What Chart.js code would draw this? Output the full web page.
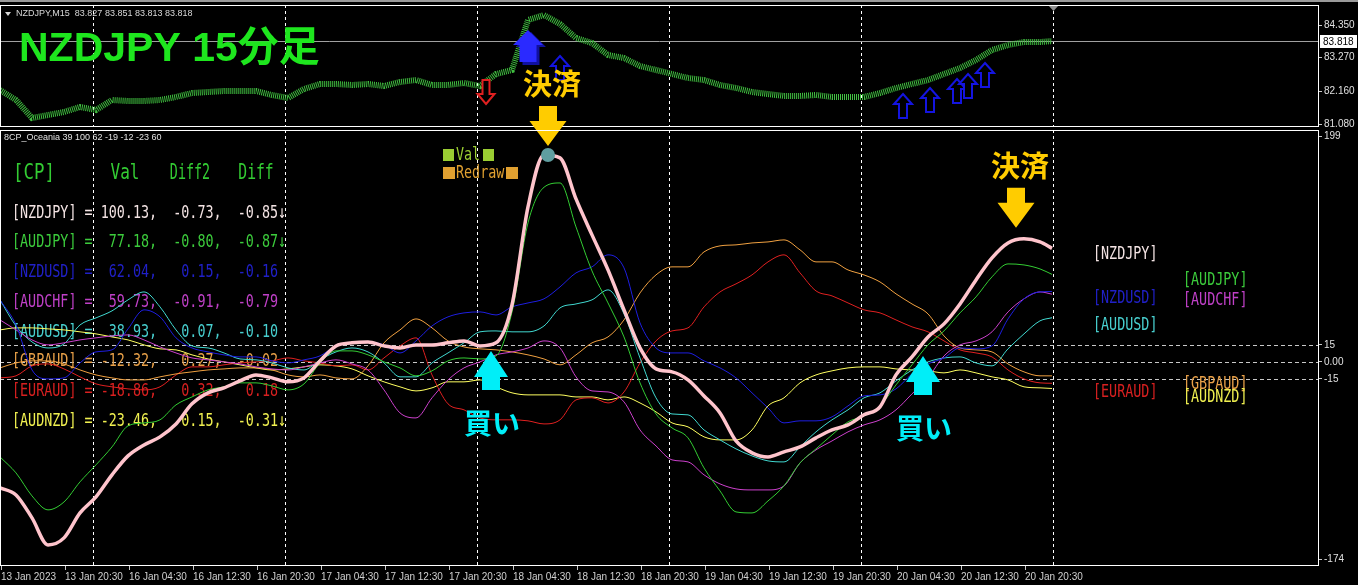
<!DOCTYPE html>
<html>
<head>
<meta charset="utf-8">
<script src="https://cdn.jsdelivr.net/npm/chart.js@4.4.0/dist/chart.umd.min.js"></script>
<style>
body { margin: 0; background: #000; width: 1358px; height: 585px; overflow: hidden; position: relative; }
#priceChart { position: absolute; left: 0; top: 0; z-index: 1; }
#cpChart { position: absolute; left: 0; top: 0; z-index: 2; }
</style>
</head>
<body>
<canvas id="priceChart" width="1358" height="129"></canvas>
<canvas id="cpChart" width="1358" height="585"></canvas>
<script>
// bar index of every sample (M15 bars, read every 8 bars)
var bars = [0, 8, 16, 24, 32, 40, 48, 56, 64, 72, 80, 88, 96, 104, 112, 120, 128, 136, 144, 152,
    160, 168, 176, 184, 192, 200, 208, 216, 224, 232, 240, 248, 256, 264, 272, 280, 288, 296, 304, 312,
    320, 328, 336, 344, 352, 360, 368, 376, 384, 392, 400, 408, 416, 424, 432, 440, 448, 456, 464, 472,
    480, 488, 496, 504, 512, 520, 526];

// NZDJPY close
var priceClose = [82.205, 81.875, 81.281, 81.380, 81.479, 81.644, 81.545, 81.875, 81.842, 81.842,
    81.875, 81.974, 82.106, 82.139, 82.172, 82.172, 82.172, 82.040, 81.941, 82.238,
    82.403, 82.403, 82.370, 82.403, 82.337, 82.469, 82.535, 82.370, 82.370, 82.436,
    82.337, 82.733, 82.865, 84.515, 84.680, 84.383, 83.921, 83.756, 83.360, 83.261,
    82.997, 82.865, 82.733, 82.601, 82.535, 82.370, 82.271, 82.139, 82.073, 82.007,
    82.007, 82.040, 81.974, 81.974, 81.974, 82.106, 82.271, 82.403, 82.535, 82.733,
    82.931, 83.195, 83.525, 83.690, 83.789, 83.789, 83.818];

// currency strength lines
var nzdjpy = [-111.1, -117.3, -137.6, -161.4, -155.2, -133.2, -119.0, -99.6, -82.9, -73.2,
    -66.1, -54.7, -37.0, -27.3, -22.9, -16.8, -11.5, -14.1, -17.6, -14.1,
    0.9, 14.1, 16.8, 17.6, 14.1, 12.3, 15.0, 15.0, 16.8, 18.5,
    14.1, 16.8, 50.3, 136.7, 182.5, 179.9, 143.7, 112.0, 81.1, 45.9,
    12.3, -6.2, -8.8, -15.9, -30.0, -45.0, -69.7, -80.2, -83.8, -79.4,
    -75.0, -67.0, -60.0, -55.6, -46.7, -39.7, -11.5, 4.4, 22.0, 33.5,
    51.1, 72.3, 91.7, 104.9, 108.5, 105.8, 100.13];
var audjpy = [-83.8, -97.9, -118.2, -130.5, -123.5, -105.8, -90.8, -75.0, -56.4, -53.8,
    -51.1, -37.9, -30.9, -24.7, -22.0, -18.5, -18.5, -21.2, -24.7, -19.4,
    -0.9, 9.7, 9.7, 6.2, 0.0, -5.3, -12.3, -7.9, 0.9, 3.5,
    2.6, 5.3, 44.0, 122.6, 154.0, 157.8, 119.0, 80.2, 52.0, 22.0,
    -18.5, -45.9, -58.2, -67.0, -93.5, -113.8, -132.3, -133.2, -122.6, -109.3,
    -89.1, -76.7, -64.4, -52.9, -47.6, -38.8, -20.3, -2.6, 15.0, 27.3,
    43.2, 57.3, 75.0, 86.4, 85.5, 82.0, 77.18];
var nzdusd = [54.7, 32.6, -7.1, -15.0, -14.1, -0.9, 8.8, 10.6, 29.1, 45.9,
    39.7, 21.2, 12.3, 8.8, 6.2, 4.4, 4.4, 0.9, -0.9, 1.8,
    5.3, 14.1, 16.8, 17.6, 15.0, 7.9, 18.5, 31.7, 39.7, 43.2,
    44.1, 41.4, 48.5, 52.0, 55.6, 66.1, 78.5, 83.8, 94.4, 82.9,
    34.4, 12.3, 7.9, 7.9, 0.9, -5.3, -14.1, -27.3, -40.6, -53.8,
    -52.0, -52.0, -48.5, -38.8, -30.0, -29.1, -23.8, -10.6, -1.8, 3.5,
    12.3, 11.5, 14.1, 37.9, 55.6, 61.7, 62.04];
var audchf = [37.0, 28.2, 19.4, 15.0, 16.8, 19.4, 21.2, 22.9, 23.8, 19.4,
    13.2, 7.9, 3.5, 1.8, 0.0, -1.8, -4.4, -6.2, -7.1, -4.4,
    -0.9, 1.8, -1.8, -7.1, -24.7, -45.0, -49.4, -31.7, -15.9, -5.3,
    0.0, 6.2, 8.8, 12.3, 18.5, 12.3, -13.2, -25.6, -26.5, -35.3,
    -60.0, -74.1, -86.4, -88.2, -99.6, -107.6, -112.0, -112.9, -112.9, -109.3,
    -89.1, -77.6, -69.7, -61.7, -55.6, -51.1, -42.3, -28.2, -14.1, 5.3,
    15.0, 18.5, 26.5, 44.1, 55.6, 61.7, 59.73];
var audusd = [54.7, 31.7, 17.6, 12.3, 15.9, 32.6, 38.8, 45.0, 54.7, 61.7,
    48.5, 28.2, 14.1, 12.3, 7.9, 2.6, 1.8, -0.9, -5.3, -7.1,
    1.8, 8.8, 12.3, 8.8, -0.9, -13.2, -13.2, -0.9, 7.9, 16.8,
    26.5, 27.3, 26.5, 26.5, 31.7, 47.6, 51.1, 54.7, 63.5, 42.3,
    3.5, -31.7, -45.9, -46.7, -60.0, -68.8, -76.7, -82.9, -87.3, -88.2,
    -75.0, -61.7, -51.1, -42.3, -31.7, -27.3, -16.8, -7.1, 0.0, 3.5,
    4.4, -0.9, -3.5, 11.5, 24.7, 36.2, 38.93];
var gbpaud = [-5.3, -0.9, 0.9, 0.9, -1.8, -7.1, -11.5, -14.1, -15.9, -15.9,
    -13.2, -10.6, -8.8, -7.1, -6.2, -5.3, -5.3, -7.1, -11.5, -13.2,
    -11.5, -14.1, -15.0, -3.5, 16.8, 28.2, 37.9, 30.0, 18.5, 13.2,
    11.5, 10.6, 8.8, 6.2, 2.6, -2.6, 6.2, 16.8, 22.0, 37.0,
    60.8, 76.7, 83.8, 83.8, 97.0, 102.3, 103.2, 104.9, 105.8, 107.6,
    98.8, 88.2, 88.2, 81.1, 76.7, 70.5, 60.0, 51.1, 42.3, 22.9,
    12.3, 10.6, 8.8, -1.8, -8.8, -12.3, -12.32];
var euraud = [-14.1, -12.3, -3.5, -1.8, -6.2, -13.2, -19.4, -22.0, -23.8, -24.7,
    -22.0, -11.5, -4.4, -4.4, -2.6, -0.9, 0.0, 0.9, 3.5, 0.9,
    -0.9, -3.5, -2.6, -7.1, 3.5, 14.1, 21.2, -11.5, -37.0, -42.3,
    -49.4, -51.1, -51.1, -52.0, -54.7, -51.1, -33.5, -31.7, -36.2, -26.5,
    -0.9, 18.5, 27.3, 30.0, 48.5, 61.7, 68.8, 76.7, 88.2, 94.4,
    78.5, 62.6, 58.2, 52.0, 45.9, 43.2, 37.0, 30.9, 26.5, 18.5,
    10.6, 7.9, 4.4, -7.1, -15.0, -18.5, -18.86];
var audnzd = [28.2, 30.0, 30.0, 29.1, 28.2, 26.5, 24.7, 22.0, 19.4, 15.0,
    11.5, 10.6, 6.2, 2.6, 0.0, -2.6, -5.3, -7.1, -6.2, -4.4,
    -2.6, -3.5, -6.2, -12.3, -17.6, -22.0, -25.6, -22.9, -17.6, -17.6,
    -15.9, -22.0, -27.3, -29.1, -29.1, -29.1, -30.9, -30.9, -33.5, -30.9,
    -36.2, -44.1, -53.8, -57.3, -66.1, -68.8, -68.8, -60.0, -38.8, -31.7,
    -18.5, -11.5, -7.9, -5.3, -4.4, -4.4, -6.2, -7.1, -7.9, -9.7,
    -7.1, -9.7, -13.2, -15.9, -22.0, -22.9, -23.46];

// table on the left
var cpNames = ["NZDJPY", "AUDJPY", "NZDUSD", "AUDCHF", "AUDUSD", "GBPAUD", "EURAUD", "AUDNZD"];
var cpVal = [100.13, 77.18, 62.04, 59.73, 38.93, -12.32, -18.86, -23.46];
var cpDiff2 = [-0.73, -0.80, 0.15, -0.91, 0.07, 0.27, 0.32, 0.15];
var cpDiff = [-0.85, -0.87, -0.16, -0.79, -0.10, -0.02, 0.18, -0.31];
var cpMark = ["↓", "↓", "", "", "", "", "", "↓"];

// signals on the price chart
var upSigBars = [280, 451.5, 465, 478.5, 484, 492.5];
var upSigPrices = [82.93, 81.677, 81.875, 82.172, 82.337, 82.700];
var bigSigBars = [264];
var bigSigPrices = [83.657];
var downSigBars = [243];
var downSigPrices = [82.139];

// marks on the indicator
var peakBars = [274];
var peakVals = [182.5];
var exitBars = [274, 508];
var exitVals = [190.5, 118.2];
var entryBars = [245.5, 461.5];
var entryVals = [9.7, 5.3];

// axes
var priceTicks = [84.35, 83.27, 82.16, 81.08];
var lastPrice = 83.818;
var cpTicks = [199, 15, 0, -15, -174];
var levelLines = [15, 0, -15];
var sepBars = [46.5, 142.5, 238.5, 334.5, 430.5, 526.5];
var timeBars = [0.5, 32.5, 64.5, 96.5, 128.5, 160.5, 192.5, 224.5, 256.5, 288.5, 320.5, 352.5, 384.5, 416.5, 448.5, 480.5, 512.5];
var timeLabels = ["13 Jan 2023", "13 Jan 20:30", "16 Jan 04:30", "16 Jan 12:30", "16 Jan 20:30", "17 Jan 04:30",
    "17 Jan 12:30", "17 Jan 20:30", "18 Jan 04:30", "18 Jan 12:30", "18 Jan 20:30", "19 Jan 04:30",
    "19 Jan 12:30", "19 Jan 20:30", "20 Jan 04:30", "20 Jan 12:30", "20 Jan 20:30"];

// styles
var lineColors = ['#ffc4cc', '#33cc33', '#1e1ee0', '#cc40cc', '#40d8d0', '#f0a040', '#e02020', '#ffff60'];
var textColors = ['#f4e4e4', '#3ccc3c', '#2020c8', '#c040c8', '#48d0d0', '#e8a048', '#d82020', '#f0f050'];
var rightLabelPos = [[1093, 254], [1183, 280], [1093, 298], [1183, 300], [1093, 325], [1183, 384], [1093, 392], [1183, 397]];
var axisFont = {family: 'Liberation Sans', size: 10};

function points(xs, ys) {
    return ys.map(function(v, i) { return {x: xs[i], y: v}; });
}

function cpLine(i, vals, width) {
    return {
        label: cpNames[i],
        data: points(bars, vals),
        borderColor: lineColors[i],
        borderWidth: width,
        pointRadius: 0,
        cubicInterpolationMode: 'monotone',
        fill: false
    };
}

function pad(s, n) {
    while (s.length < n) s = ' ' + s;
    return s;
}

// tall thin mono text like the terminal font
function tallText(ctx, text, x, y, color, sx, sy, align) {
    ctx.save();
    ctx.translate(x, y);
    ctx.scale(sx, sy);
    ctx.font = '13.4px "DejaVu Sans Mono"';
    ctx.fillStyle = color;
    ctx.textBaseline = 'middle';
    ctx.textAlign = align || 'left';
    ctx.fillText(text, 0, 0);
    ctx.restore();
}

// block arrow, negative heights point it down
function arrowPath(ctx, cx, tipY, w, headH, stemW, stemH) {
    ctx.beginPath();
    ctx.moveTo(cx, tipY);
    ctx.lineTo(cx + w / 2, tipY + headH);
    ctx.lineTo(cx + stemW / 2, tipY + headH);
    ctx.lineTo(cx + stemW / 2, tipY + headH + stemH);
    ctx.lineTo(cx - stemW / 2, tipY + headH + stemH);
    ctx.lineTo(cx - stemW / 2, tipY + headH);
    ctx.lineTo(cx - w / 2, tipY + headH);
    ctx.closePath();
}

// keep the plot areas at the exact panel edges
function fixY(scale) {
    scale.width = 39;
    scale.paddingTop = 0;
    scale.paddingBottom = 0;
}
function fixX(scale) {
    scale.height = 19;
    scale.paddingLeft = 0;
    scale.paddingRight = 0;
}

var priceDecor = {
    id: 'priceDecor',
    beforeDatasetsDraw: function(chart) {
        var ctx = chart.ctx, a = chart.chartArea, xs = chart.scales.x, ys = chart.scales.y;
        ctx.save();
        ctx.fillStyle = '#9a9a9a';
        ctx.fillRect(0, 0, 1358, 2);
        ctx.lineWidth = 1;
        ctx.strokeStyle = '#ffffff';
        ctx.setLineDash([3, 3]);
        sepBars.forEach(function(b) {
            var x = Math.round(xs.getPixelForValue(b)) + 0.5;
            ctx.beginPath(); ctx.moveTo(x, a.top); ctx.lineTo(x, a.bottom); ctx.stroke();
        });
        ctx.setLineDash([]);
        ctx.strokeStyle = '#a0a0a0';
        var py = Math.round(ys.getPixelForValue(lastPrice)) + 0.5;
        ctx.beginPath(); ctx.moveTo(a.left, py); ctx.lineTo(a.right, py); ctx.stroke();
        ctx.restore();
    },
    afterDatasetsDraw: function(chart) {
        var ctx = chart.ctx, a = chart.chartArea, xs = chart.scales.x, ys = chart.scales.y;
        ctx.save();
        // hollow blue up arrows
        ctx.lineWidth = 2;
        ctx.strokeStyle = '#1414e0';
        ctx.fillStyle = '#000';
        upSigBars.forEach(function(b, i) {
            var x = xs.getPixelForValue(b), y = ys.getPixelForValue(upSigPrices[i]);
            arrowPath(ctx, x, y - 12, 18, 10, 8, 14);
            ctx.fill(); ctx.stroke();
        });
        // big filled blue arrow
        bigSigBars.forEach(function(b, i) {
            var x = xs.getPixelForValue(b), y = ys.getPixelForValue(bigSigPrices[i]);
            ctx.fillStyle = '#1010a0';
            arrowPath(ctx, x + 3, y - 14, 30, 15, 17, 18);
            ctx.fill();
            ctx.fillStyle = '#2a2aff';
            arrowPath(ctx, x, y - 16, 30, 15, 17, 17);
            ctx.fill();
        });
        // hollow red down arrows
        ctx.strokeStyle = '#e02020';
        ctx.fillStyle = '#000';
        downSigBars.forEach(function(b, i) {
            var x = xs.getPixelForValue(b), y = ys.getPixelForValue(downSigPrices[i]);
            arrowPath(ctx, x, y + 12, 17, -10, 7, -14);
            ctx.fill(); ctx.stroke();
        });
        // header line
        ctx.fillStyle = '#d8d8d8';
        ctx.beginPath(); ctx.moveTo(5, 12); ctx.lineTo(11, 12); ctx.lineTo(8, 16); ctx.closePath(); ctx.fill();
        ctx.font = '9px "Liberation Sans"';
        ctx.textBaseline = 'middle';
        ctx.fillText('NZDJPY,M15  83.827 83.851 83.813 83.818', 16, 14);
        // big title
        ctx.font = 'bold 41px "Liberation Sans", "Noto Sans CJK JP"';
        ctx.textBaseline = 'alphabetic';
        ctx.fillStyle = '#1ee61e';
        ctx.fillText('NZDJPY 15分足', 19, 61);
        // last price box
        var py = Math.round(ys.getPixelForValue(lastPrice));
        ctx.fillStyle = '#ffffff';
        ctx.fillRect(a.right + 1, py - 6, 37, 13);
        ctx.fillStyle = '#000';
        ctx.font = '10px "Liberation Sans"';
        ctx.textBaseline = 'middle';
        ctx.fillText(lastPrice.toFixed(3), a.right + 4, py + 1);
        // shift marker
        var sx = xs.getPixelForValue(sepBars[sepBars.length - 1]);
        ctx.fillStyle = '#909090';
        ctx.beginPath(); ctx.moveTo(sx - 5, a.top); ctx.lineTo(sx + 6, a.top); ctx.lineTo(sx + 0.5, a.top + 6); ctx.closePath(); ctx.fill();
        // border
        ctx.strokeStyle = '#ffffff';
        ctx.lineWidth = 1;
        ctx.strokeRect(a.left + 0.5, a.top + 0.5, a.right - a.left - 1, a.bottom - a.top - 1);
        ctx.restore();
    }
};

var cpDecor = {
    id: 'cpDecor',
    beforeDatasetsDraw: function(chart) {
        var ctx = chart.ctx, a = chart.chartArea, xs = chart.scales.x, ys = chart.scales.y;
        ctx.save();
        ctx.lineWidth = 1;
        ctx.strokeStyle = '#c8c8c8';
        ctx.setLineDash([4, 3]);
        levelLines.forEach(function(v) {
            var y = Math.round(ys.getPixelForValue(v)) + 0.5;
            ctx.beginPath(); ctx.moveTo(a.left, y); ctx.lineTo(a.right, y); ctx.stroke();
        });
        ctx.strokeStyle = '#ffffff';
        ctx.setLineDash([3, 3]);
        sepBars.forEach(function(b) {
            var x = Math.round(xs.getPixelForValue(b)) + 0.5;
            ctx.beginPath(); ctx.moveTo(x, a.top); ctx.lineTo(x, a.bottom); ctx.stroke();
        });
        ctx.restore();

        // indicator name
        ctx.save();
        ctx.font = '9px "Liberation Sans"';
        ctx.fillStyle = '#e0e0e0';
        ctx.textBaseline = 'middle';
        ctx.fillText('8CP_Oceania 39 100 62 -19 -12 -23 60', 4, a.top + 8);
        ctx.restore();

        // table
        tallText(ctx, '[CP]', 34, 173, '#33cc33', 1.3, 1.6, 'center');
        tallText(ctx, 'Val', 125, 173, '#33cc33', 1.2, 1.6, 'center');
        tallText(ctx, 'Diff2', 190, 173, '#33cc33', 1.0, 1.6, 'center');
        tallText(ctx, 'Diff', 256, 173, '#33cc33', 1.1, 1.6, 'center');
        cpNames.forEach(function(n, i) {
            var s = '[' + n + '] = ' + pad(cpVal[i].toFixed(2), 6) + ',  ' + pad(cpDiff2[i].toFixed(2), 5) + ',  ' +
                pad(cpDiff[i].toFixed(2), 5) + cpMark[i];
            tallText(ctx, s, 12, 213 + i * 29.7, textColors[i], 1, 1.35);
        });

        // legend
        ctx.save();
        ctx.fillStyle = '#9acd32';
        ctx.fillRect(443, 149, 11, 12);
        ctx.fillRect(483, 149, 11, 12);
        ctx.fillStyle = '#e0a030';
        ctx.fillRect(443, 167, 12, 12);
        ctx.fillRect(506, 167, 12, 12);
        ctx.restore();
        tallText(ctx, 'Val', 456, 155, '#9acd32', 1, 1.35);
        tallText(ctx, 'Redraw', 456, 173, '#e0a030', 1, 1.35);

        // labels on the right
        cpNames.forEach(function(n, i) {
            tallText(ctx, '[' + n + ']', rightLabelPos[i][0], rightLabelPos[i][1], textColors[i], 1, 1.3);
        });
    },
    afterDatasetsDraw: function(chart) {
        var ctx = chart.ctx, a = chart.chartArea, xs = chart.scales.x, ys = chart.scales.y;
        ctx.save();
        // exit marks
        exitBars.forEach(function(b, i) {
            var x = xs.getPixelForValue(b), y = ys.getPixelForValue(exitVals[i]);
            ctx.fillStyle = '#ffcc00';
            arrowPath(ctx, x, y, 37, -25, 18, -15);
            ctx.fill();
            ctx.font = 'bold 29px "Noto Sans CJK JP"';
            ctx.textAlign = 'center';
            ctx.textBaseline = 'middle';
            ctx.fillText('決済', x + 4, y - 62);
        });
        // entry marks
        entryBars.forEach(function(b, i) {
            var x = xs.getPixelForValue(b), y = ys.getPixelForValue(entryVals[i]);
            ctx.fillStyle = '#00eef8';
            arrowPath(ctx, x, y, 34, 26, 18, 13);
            ctx.fill();
            ctx.font = 'bold 28px "Noto Sans CJK JP"';
            ctx.textAlign = 'center';
            ctx.textBaseline = 'middle';
            ctx.fillText('買い', x + 1, y + 72);
        });
        // border
        ctx.strokeStyle = '#ffffff';
        ctx.lineWidth = 1;
        ctx.strokeRect(a.left + 0.5, a.top + 0.5, a.right - a.left - 1, a.bottom - a.top - 1);
        ctx.restore();
    }
};

var ctx = document.getElementById('priceChart').getContext('2d');
var priceChart = new Chart(ctx, {
    type: 'line',
    data: {
        datasets: [{
            label: 'NZDJPY,M15',
            data: points(bars, priceClose),
            borderColor: '#40c040',
            borderWidth: 6,
            borderDash: [1, 1],
            pointRadius: 0,
            tension: 0
        }]
    },
    options: {
        responsive: false,
        animation: false,
        devicePixelRatio: 1,
        layout: { autoPadding: false, padding: { top: 5, bottom: 2, left: 0, right: 0 } },
        plugins: { legend: { display: false }, tooltip: { enabled: false } },
        scales: {
            x: { type: 'linear', min: 0, max: 659.5, display: false },
            y: {
                position: 'right',
                min: 80.984,
                max: 85.01,
                afterBuildTicks: function(scale) {
                    scale.ticks = priceTicks.map(function(v) { return {value: v}; });
                },
                afterFit: fixY,
                ticks: {
                    autoSkip: false,
                    color: '#e0e0e0',
                    font: axisFont,
                    padding: 2,
                    callback: function(v) { return v.toFixed(3); }
                },
                grid: { drawOnChartArea: false, drawTicks: true, tickLength: 3, color: '#c8c8c8' },
                border: { display: false }
            }
        }
    },
    plugins: [priceDecor]
});

ctx = document.getElementById('cpChart').getContext('2d');
var cpChart = new Chart(ctx, {
    type: 'line',
    data: {
        datasets: [
            {
                label: 'Redraw',
                data: points(peakBars, peakVals),
                showLine: false,
                pointRadius: 7,
                pointBackgroundColor: '#5f9ea0',
                pointBorderWidth: 0
            },
            cpLine(0, nzdjpy, 3.5),
            cpLine(1, audjpy, 1),
            cpLine(2, nzdusd, 1),
            cpLine(3, audchf, 1),
            cpLine(4, audusd, 1),
            cpLine(5, gbpaud, 1),
            cpLine(6, euraud, 1),
            cpLine(7, audnzd, 1)
        ]
    },
    options: {
        responsive: false,
        animation: false,
        devicePixelRatio: 1,
        layout: { autoPadding: false, padding: { top: 130, bottom: 0, left: 0, right: 0 } },
        plugins: { legend: { display: false }, tooltip: { enabled: false } },
        scales: {
            x: {
                type: 'linear',
                min: 0,
                max: 659.5,
                afterBuildTicks: function(scale) {
                    scale.ticks = timeBars.map(function(v) { return {value: v}; });
                },
                afterFit: fixX,
                ticks: {
                    autoSkip: false,
                    maxRotation: 0,
                    align: 'start',
                    padding: 1,
                    color: '#d0d0d0',
                    font: axisFont,
                    callback: function(v, i) { return timeLabels[i]; }
                },
                grid: { drawOnChartArea: false, drawTicks: true, tickLength: 4, color: '#c8c8c8' },
                border: { display: false }
            },
            y: {
                position: 'right',
                min: -180,
                max: 204.5,
                afterBuildTicks: function(scale) {
                    scale.ticks = cpTicks.map(function(v) { return {value: v}; });
                },
                afterFit: fixY,
                ticks: {
                    autoSkip: false,
                    color: '#e0e0e0',
                    font: axisFont,
                    padding: 2,
                    callback: function(v) { return v === 0 ? '0.00' : String(v); }
                },
                grid: { drawOnChartArea: false, drawTicks: true, tickLength: 3, color: '#c8c8c8' },
                border: { display: false }
            }
        }
    },
    plugins: [cpDecor]
});
</script>
</body>
</html>
